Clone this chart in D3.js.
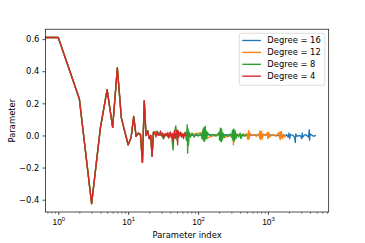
<!DOCTYPE html>
<html>
<head>
<meta charset="utf-8">
<script src="https://cdn.jsdelivr.net/npm/d3@7"></script>
<style>
  body { margin: 0; background: #fff; }
  svg { display: block; font-family: "DejaVu Sans", sans-serif; }
</style>
</head>
<body>
<div id="chart"></div>
<script>
// Shared leading coefficients (all four fits overlap here)
const headIdx = [0, 1, 2, 3, 4, 5, 6, 7, 8, 9, 10, 11, 12, 13, 14, 15, 16, 17, 18, 19, 20, 21, 22, 23];
const headVal = [0.61, 0.61, 0.229, -0.425, 0.046, 0.285, 0.05, 0.42, 0.108, 0.02, -0.058, -0.015, 0.118, -0.006, 0.015, 0.005, -0.168, 0.216, 0.0, 0.03, -0.02, 0.0, -0.13, 0.02];

// Degree 4 tail
const deg4Idx = [24, 25, 26, 27, 28, 29, 30, 31, 32, 33, 34, 35, 36, 37, 38, 39, 40, 41, 42, 43, 44, 45, 46, 47, 48, 49, 50, 51, 52, 53, 54, 56, 58, 60, 62, 64, 66, 69];
const deg4Val = [0.02, -0.01, 0.025, 0.0, 0.005, 0.028, 0.0, 0.015, -0.02, 0.01, 0.0, 0.012, 0.0, 0.018, -0.015, 0.005, 0.02, -0.01, -0.01, 0.012, -0.04, 0.0, 0.03, -0.02, 0.0, 0.015, 0.035, -0.058, 0.03, -0.01, 0.0, 0.02, -0.01, 0.01, -0.02, 0.015, 0.0, 0.005];

// Degree 8 tail
const deg8Idx = [24, 26, 28, 30, 32, 34, 36, 38, 40, 42, 44, 45, 46, 48, 50, 53, 56, 60, 63, 66, 68, 70, 71, 72, 73, 75, 78, 82, 88, 95, 100, 110, 114, 116, 118, 119, 120, 121, 122, 123, 124, 125, 127, 128, 130, 133, 136, 140, 150, 165, 180, 198, 200, 203, 205, 207, 210, 212, 214, 216, 218, 220, 222, 228, 235, 250, 270, 290, 305, 310, 313, 315, 318, 320, 322, 325, 328, 332, 336, 340, 348, 360, 380, 400, 410, 420, 440, 460, 494];
const deg8Val = [0.02, 0.025, 0.005, 0.0, -0.02, 0.0, 0.0, -0.015, 0.02, -0.01, -0.09, 0.01, 0.02, 0.06, -0.03, 0.01, 0.02, 0.0, 0.01, 0.02, -0.03, 0.067, -0.11, 0.04, -0.06, 0.02, -0.01, 0.015, -0.01, 0.01, -0.005, 0.01, -0.02, 0.02, 0.04, -0.03, 0.035, -0.025, 0.05, -0.037, 0.045, -0.03, 0.056, -0.02, 0.03, -0.02, 0.02, 0.01, 0.0, 0.005, -0.005, 0.015, 0.02, -0.025, -0.03, 0.035, 0.046, -0.035, -0.04, 0.04, 0.035, -0.03, -0.02, 0.015, -0.01, 0.005, -0.005, 0.01, -0.015, 0.03, -0.025, 0.035, -0.03, 0.03, 0.02, 0.04, -0.03, -0.035, 0.03, 0.025, -0.02, 0.01, -0.01, 0.015, -0.02, -0.01, 0.01, -0.005, 0.005];

// Degree 12 tail
const deg12Idx = [24, 30, 40, 60, 80, 120, 126, 200, 212, 300, 318, 320, 330, 400, 470, 500, 510, 520, 525, 530, 535, 540, 550, 580, 620, 680, 740, 760, 770, 780, 790, 800, 810, 820, 830, 860, 920, 980, 995, 1000, 1010, 1020, 1050, 1150, 1300, 1420, 1450, 1480, 1500, 1520, 1550, 1580, 1600, 1650, 1700, 1819];
const deg12Val = [0.01, 0.0, 0.01, 0.0, 0.005, 0.02, -0.02, 0.01, -0.02, 0.0, 0.02, -0.058, 0.01, 0.0, 0.005, 0.01, -0.02, -0.025, 0.02, 0.03, -0.015, -0.02, 0.015, 0.0, 0.005, -0.005, 0.01, -0.015, 0.03, -0.02, -0.027, 0.02, 0.025, -0.015, -0.02, 0.01, 0.0, 0.015, -0.015, -0.02, 0.02, 0.02, -0.01, 0.005, -0.005, 0.015, 0.02, -0.02, -0.025, 0.02, 0.025, -0.015, -0.02, 0.01, -0.01, 0.0];

// Degree 16 tail
const deg16Idx = [24, 60, 200, 500, 900, 1400, 1819, 1850, 1950, 2000, 2050, 2100, 2300, 2400, 2460, 2500, 2600, 2900, 3050, 3100, 3150, 3300, 3500, 3800, 3900, 3950, 4000, 4300, 4500, 4844];
const deg16Val = [0.01, 0.0, 0.005, 0.0, 0.005, 0.0, 0.0, 0.005, -0.01, 0.015, -0.02, 0.005, 0.0, -0.01, -0.044, 0.01, -0.005, 0.0, -0.02, 0.015, -0.01, 0.0, 0.005, -0.01, 0.035, -0.03, 0.01, 0.0, -0.005, 0.0];

const seriesNames = ["Degree = 16", "Degree = 12", "Degree = 8", "Degree = 4"];
const seriesColors = ["#1f77b4", "#ff7f0e", "#2ca02c", "#d62728"];
const yTicks = [-0.4, -0.2, 0.0, 0.2, 0.4, 0.6];
const xTicks = [1, 10, 100, 1000];

const tails = [[deg16Idx, deg16Val], [deg12Idx, deg12Val], [deg8Idx, deg8Val], [deg4Idx, deg4Val]];
const series = tails.map(([ti, tv], k) => ({
  name: seriesNames[k],
  color: seriesColors[k],
  points: headIdx.map((i, j) => ({ i, v: headVal[j] }))
    .concat(ti.map((i, j) => ({ i, v: tv[j] })))
}));

const W = 365, H = 243;
const margin = { top: 29.2, right: 36.3, bottom: 31, left: 45.4 };
const width = W - margin.left - margin.right;
const height = H - margin.top - margin.bottom;

const svg = d3.select('#chart').append('svg').attr('width', W).attr('height', H);
const g = svg.append('g').attr('transform', `translate(${margin.left},${margin.top})`);

// matplotlib-style 5% margins (log on x)
const allPts = series.flatMap(s => s.points);
const posI = allPts.filter(p => p.i > 0).map(p => Math.log10(p.i));
const lx0 = d3.min(posI), lx1 = d3.max(posI), lpad = (lx1 - lx0) * 0.05;
const x = d3.scaleLog().domain([10 ** (lx0 - lpad), 10 ** (lx1 + lpad)]).range([0, width]);
const [vmin, vmax] = d3.extent(allPts, p => p.v);
const vpad = (vmax - vmin) * 0.05;
const y = d3.scaleLinear().domain([vmin - vpad, vmax + vpad]).range([height, 0]);

g.append('clipPath').attr('id', 'plotclip')
  .append('rect').attr('width', width).attr('height', height);

const line = d3.line()
  .x(p => p.i > 0 ? x(p.i) : -2000) // index 0 is clipped off the log axis
  .y(p => y(p.v));

const lines = g.append('g').attr('clip-path', 'url(#plotclip)');
series.forEach(s => {
  lines.append('path')
    .datum(s.points)
    .attr('fill', 'none')
    .attr('stroke', s.color)
    .attr('stroke-width', 1.35)
    .attr('stroke-linejoin', 'round')
    .attr('d', line);
});

// Axes
const fs = 8.4;
const yAxis = g.append('g')
  .call(d3.axisLeft(y).tickValues(yTicks).tickSize(3).tickPadding(3)
    .tickFormat(d => d3.format('.1f')(d).replace('-', '\u2212')));
yAxis.select('.domain').remove();
yAxis.selectAll('.tick line').attr('stroke', '#000').attr('stroke-width', 0.68);
yAxis.selectAll('.tick text').attr('font-size', fs).attr('fill', '#000')
  .attr('font-family', '"DejaVu Sans", sans-serif');

const [d0, d1] = x.domain();
const minor = [];
for (let e = Math.floor(Math.log10(d0)); e <= Math.ceil(Math.log10(d1)); e++) {
  for (let m = 2; m <= 9; m++) {
    const v = m * 10 ** e;
    if (v >= d0 && v <= d1) minor.push(v);
  }
}
const xMinor = g.append('g').attr('transform', `translate(0,${height})`)
  .call(d3.axisBottom(x).tickValues(minor).tickSize(1.7).tickFormat(''));
xMinor.select('.domain').remove();
xMinor.selectAll('.tick line').attr('stroke', '#000').attr('stroke-width', 0.5);

const xAxis = g.append('g').attr('transform', `translate(0,${height})`)
  .call(d3.axisBottom(x).tickValues(xTicks).tickSize(3).tickFormat(''));
xAxis.select('.domain').remove();
xAxis.selectAll('.tick line').attr('stroke', '#000').attr('stroke-width', 0.68);
xAxis.selectAll('.tick').each(function (d) {
  const t = d3.select(this).append('text')
    .attr('y', 13).attr('text-anchor', 'middle')
    .attr('font-size', fs).attr('fill', '#000');
  t.append('tspan').text('10');
  t.append('tspan').attr('dy', -3.6).attr('font-size', fs * 0.7)
    .text(Math.round(Math.log10(d)));
});

// Frame
g.append('rect').attr('width', width).attr('height', height)
  .attr('fill', 'none').attr('stroke', '#000').attr('stroke-width', 0.68);

// Axis labels
svg.append('text')
  .attr('x', margin.left + width / 2).attr('y', 238)
  .attr('text-anchor', 'middle').attr('font-size', fs).text('Parameter index');
svg.append('text')
  .attr('transform', `translate(14.5,${margin.top + height / 2}) rotate(-90)`)
  .attr('text-anchor', 'middle').attr('font-size', fs).text('Parameter');

// Legend
const lg = svg.append('g').attr('transform', 'translate(239.3,33.3)');
lg.append('rect').attr('width', 85.5).attr('height', 52)
  .attr('rx', 2).attr('fill', '#fff').attr('fill-opacity', 0.8)
  .attr('stroke', '#ccc').attr('stroke-width', 0.68);
series.forEach((s, k) => {
  const yy = 7.2 + k * 11.9;
  lg.append('line').attr('x1', 3).attr('x2', 21.7).attr('y1', yy).attr('y2', yy)
    .attr('stroke', s.color).attr('stroke-width', 1.35);
  lg.append('text').attr('x', 28).attr('y', yy + 3).attr('font-size', fs).text(s.name);
});
</script>
</body>
</html>
